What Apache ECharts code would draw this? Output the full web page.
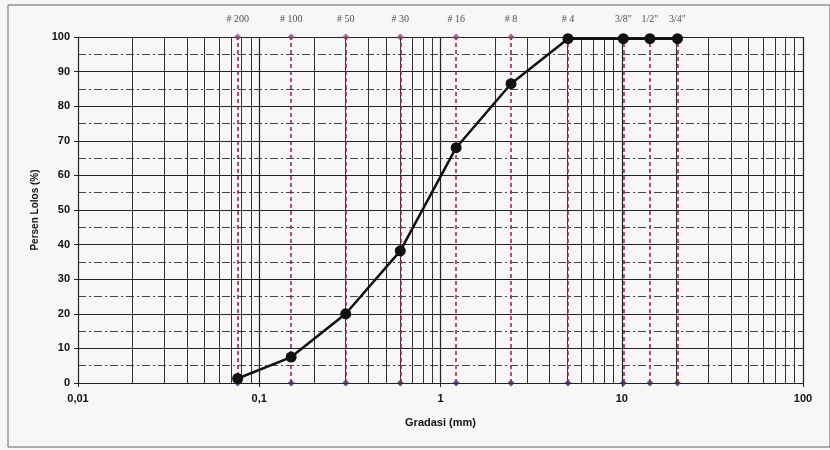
<!DOCTYPE html>
<html><head><meta charset="utf-8">
<script src="https://cdn.jsdelivr.net/npm/echarts@6/dist/echarts.min.js"></script>
<style>html,body{margin:0;padding:0;background:#f8f6f7}#c{width:830px;height:450px}</style>
</head><body><div id="c"></div>
<script>
// Sieve data (positions)
const sieveNames = ['# 200','# 100','# 50','# 30','# 16','# 8','# 4','3/8"','1/2"','3/4"'];
const sieveSizes = [0.076, 0.15, 0.3, 0.6, 1.22, 2.45, 5.05, 10.2, 14.3, 20.3];
const percentPassing = [1.3, 7.5, 20, 38.2, 68, 86.5, 99.5, 99.5, 99.5, 99.5];
// minor vertical grid values (log decades 2..9)
const minorGridX = [];
[0.01, 0.1, 1, 10].forEach(d => { for (let k = 2; k <= 9; k++) minorGridX.push(+(d * k).toPrecision(3)); });

const chart = echarts.init(document.getElementById('c'));
const lineData = sieveSizes.map((s, i) => [s, percentPassing[i]]);
chart.setOption({
  backgroundColor: '#f8f6f7',
  animation: false,
  grid: { left: 78, right: 27, top: 37, bottom: 67 },
  graphic: [{ type: 'rect', shape: { x: 8, y: 5, width: 822, height: 442 }, style: { fill: 'none', stroke: '#666', lineWidth: 1 }, silent: true }],
  xAxis: {
    type: 'log', logBase: 10, min: 0.01, max: 100,
    name: 'Gradasi (mm)', nameLocation: 'middle', nameGap: 34,
    nameTextStyle: { fontFamily: 'Liberation Sans', fontWeight: 'bold', fontSize: 11, color: '#111' },
    axisLine: { lineStyle: { color: '#222', width: 1 } },
    axisTick: { show: true, length: 4, lineStyle: { color: '#222' } },
    axisLabel: { fontFamily: 'Liberation Sans', fontWeight: 'bold', fontSize: 11, color: '#111', margin: 10,
      formatter: v => String(+(+v).toPrecision(6)).replace('.', ',') },
    splitLine: { show: true, lineStyle: { color: '#222', width: 1.2 } }
  },
  yAxis: {
    type: 'value', min: 0, max: 100, interval: 10,
    name: 'Persen Lolos (%)', nameLocation: 'middle', nameGap: 36,
    nameTextStyle: { fontFamily: 'Liberation Sans', fontWeight: 'bold', fontSize: 10, color: '#111' },
    axisLine: { show: true, lineStyle: { color: '#222' } },
    axisTick: { show: true, length: 4, lineStyle: { color: '#222' } },
    axisLabel: { fontFamily: 'Liberation Sans', fontWeight: 'bold', fontSize: 11, color: '#111', margin: 8 },
    splitLine: { show: true, lineStyle: { color: '#222', width: 1.2 } },
    minorTick: { show: false, splitNumber: 2 },
    minorSplitLine: { show: true, lineStyle: { color: '#444', width: 1, type: [8, 3, 2, 3] } }
  },
  series: [
    {
      type: 'line', data: [], silent: true,
      markLine: { silent: true, symbol: 'none', label: { show: false },
        lineStyle: { color: '#333', width: 1, type: 'solid' },
        data: minorGridX.map(v => ({ xAxis: v })) }
    },
    {
      type: 'line', data: [], silent: true,
      markLine: { silent: true, symbol: 'none', label: { show: false },
        lineStyle: { color: '#a0283c', width: 1.6, type: [4, 3] },
        data: sieveSizes.map(s => [{ coord: [s, 0] }, { coord: [s, 100] }]) }
    },
    {
      type: 'scatter', symbol: 'diamond', symbolSize: 7, itemStyle: { color: '#3a2a6a' },
      data: sieveSizes.map(s => [s, 0]), z: 3
    },
    {
      type: 'scatter', symbol: 'diamond', symbolSize: 7, itemStyle: { color: '#8a4a8a' },
      data: sieveSizes.map((s, i) => ({ value: [s, 100], name: sieveNames[i] })), z: 3,
      label: { show: true, position: 'top', distance: 9, formatter: p => p.name,
        fontFamily: 'Liberation Serif', fontSize: 10, color: '#222' }
    },
    {
      type: 'line', data: lineData, symbol: 'circle', symbolSize: 11,
      lineStyle: { color: '#111', width: 2.5 }, itemStyle: { color: '#111' }, z: 5
    }
  ]
});
</script></body></html>
